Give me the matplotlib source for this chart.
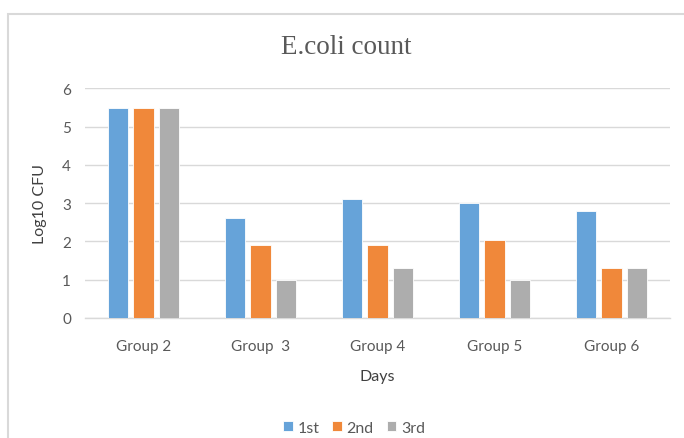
import matplotlib
matplotlib.use("Agg")
import matplotlib.pyplot as plt
import numpy as np
from matplotlib.patches import Rectangle

# Data
groups = ["Group 2", "Group  3", "Group 4", "Group 5", "Group 6"]
first = [5.48, 2.6, 3.1, 3.0, 2.8]
second = [5.48, 1.9, 1.9, 2.05, 1.3]
third = [5.48, 1.0, 1.3, 1.0, 1.3]
series_names = ["1st", "2nd", "3rd"]
y_ticks = [0, 1, 2, 3, 4, 5, 6]

colors = ["#66A3D9", "#F0883A", "#ADADAD"]
tick_color = "#595959"
grid_color = "#D9D9D9"

W, H = 684, 439
fig = plt.figure(figsize=(W / 100, H / 100), dpi=100)

# Chart frame (light border)
fig.patches.append(Rectangle((8 / W, -0.1), 1.2, 1 - 15 / H + 0.1,
                             transform=fig.transFigure, fill=False,
                             edgecolor="#D9D9D9", linewidth=1.5))

ax = fig.add_axes([85 / W, 1 - 319 / H, (670 - 85) / W, (319 - 89.3) / H])

x = np.arange(len(groups))
step = 0.22
width = 0.172
for i, (vals, c, name) in enumerate(zip([first, second, third], colors, series_names)):
    ax.bar(x + (i - 1) * step, vals, width, color=c, label=name,
           edgecolor="white", linewidth=0.6, zorder=3)

ax.set_xlim(-0.5, len(groups) - 0.5)
ax.set_ylim(0, 6)
ax.set_yticks(y_ticks)
ax.set_xticks(x)
ax.set_xticklabels(groups)

for s in ["top", "right", "left"]:
    ax.spines[s].set_visible(False)
ax.spines["bottom"].set_color(grid_color)
ax.spines["bottom"].set_linewidth(1.0)
ax.grid(axis="y", color=grid_color, linewidth=1.0, zorder=0)
ax.set_axisbelow(True)

ax.tick_params(axis="both", length=0, colors=tick_color, labelsize=11)
ax.tick_params(axis="x", pad=15)
ax.tick_params(axis="y", pad=10)
for lbl in ax.get_xticklabels() + ax.get_yticklabels():
    lbl.set_fontfamily("Lato")

ax.set_xlabel("Days", fontsize=11.5, color="#404040", fontfamily="Lato", labelpad=12)
ax.set_ylabel("Log10 CFU", fontsize=11.5, color="#404040", fontfamily="Lato", labelpad=11)

fig.text(346 / W, 1 - 48 / H, "E.coli count", ha="center", va="center",
         fontsize=19.5, color="#595959", fontfamily="Liberation Serif")

leg = fig.legend(loc="center", bbox_to_anchor=(354 / W, 1 - 429 / H), ncol=3,
                 frameon=False, handlelength=0.6, handleheight=0.6,
                 handletextpad=0.3, columnspacing=0.8,
                 prop={"family": "Lato", "size": 11.5})
for t in leg.get_texts():
    t.set_color(tick_color)

fig.savefig("out.png", dpi=100)
